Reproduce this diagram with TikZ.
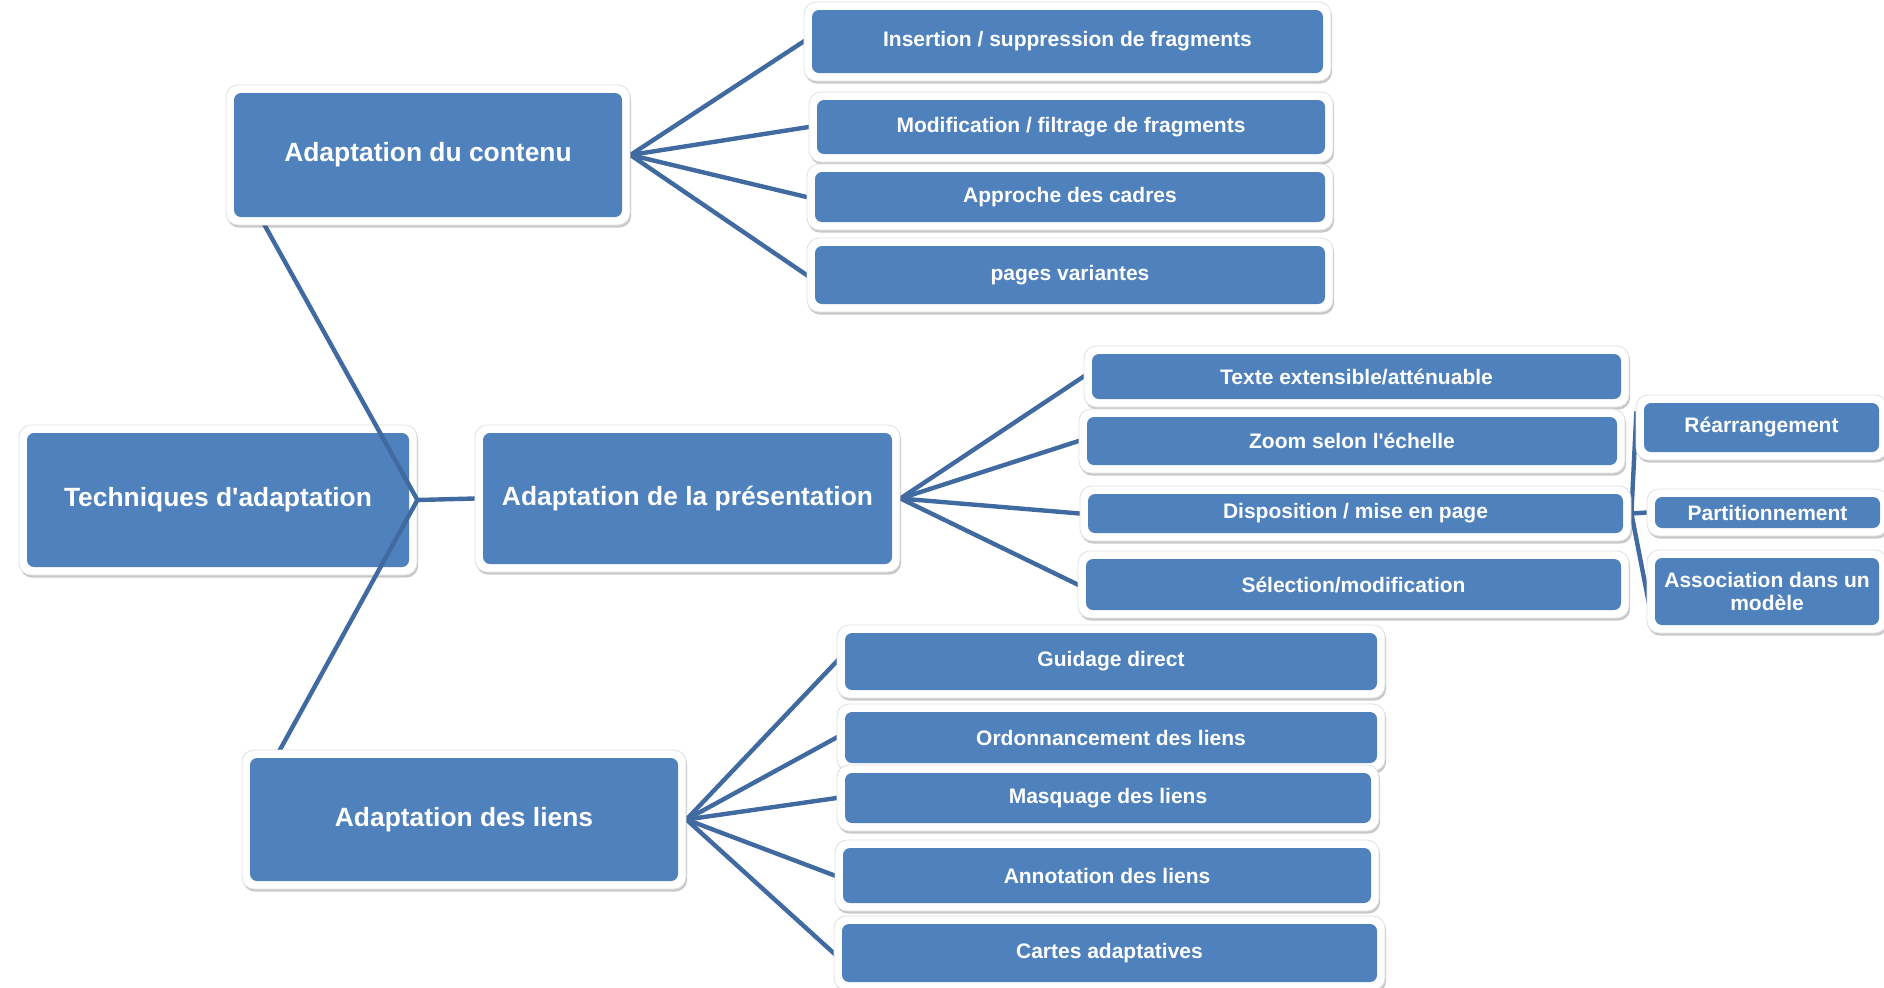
\documentclass[tikz,border=0pt]{standalone}
\usepackage{fontspec}
\newfontfamily\lsans{Liberation Sans}
\usetikzlibrary{shadows,calc}
\definecolor{boxblue}{HTML}{4F81BD}
\definecolor{linkblue}{HTML}{406AA0}
\pgfdeclarelayer{bottom}
\pgfdeclarelayer{edges}
\pgfsetlayers{bottom,edges,main}
\begin{document}
\begin{tikzpicture}[x=0.5pt,y=-0.5pt,
  box/.style={fill=white, draw=black!12, line width=0.4pt, rounded corners=6pt,
    drop shadow={shadow xshift=0.6pt, shadow yshift=-1.3pt, opacity=0.3, fill=black!70},
    text=white, inner sep=0pt, align=center,
    path picture={\fill[boxblue, rounded corners=3.5pt]
      ([shift={(4pt,-4pt)}]path picture bounding box.north west) rectangle
      ([shift={(-4pt,4pt)}]path picture bounding box.south east);}},
  big/.style={box, font=\lsans\fontsize{13.2}{15}\selectfont\bfseries},
  small/.style={box, font=\lsans\fontsize{10.5}{11.5}\selectfont\bfseries},
  link/.style={draw=linkblue, line width=2.2pt},
  conn/.style={link, shorten >=-8pt, shorten <=-1pt}]
\useasboundingbox (0,0) rectangle (1884,987);
\begin{pgfonlayer}{bottom}
\fill[white] (0,0) rectangle (1884,987);
\node[big, minimum width=199pt, minimum height=75pt] (root) at (218,500) {Techniques d'adaptation};
\end{pgfonlayer}

\node[big, minimum width=202pt, minimum height=70pt] (cont) at (428,155) {Adaptation du contenu};
\node[big, minimum width=212.5pt, minimum height=73.5pt] (pres) at (687.5,498.5) {Adaptation de la présentation};
\node[big, minimum width=222pt, minimum height=69.5pt] (liens) at (464,819.5) {Adaptation des liens};

\node[small, minimum width=263.5pt, minimum height=39.5pt] (c1) at (1067.5,41.5) {Insertion / suppression de fragments};
\node[small, minimum width=262pt, minimum height=35pt] (c2) at (1071,127) {Modification / filtrage de fragments};
\node[small, minimum width=263pt, minimum height=33pt] (c3) at (1070,197) {Approche des cadres};
\node[small, minimum width=263pt, minimum height=37pt] (c4) at (1070,275) {pages variantes};

\node[small, minimum width=272.5pt, minimum height=30.5pt] (p1) at (1356.5,376.5) {Texte extensible/atténuable};
\node[small, minimum width=273pt, minimum height=32pt] (p2) at (1352,441) {Zoom selon l'échelle};
\node[small, minimum width=275.5pt, minimum height=27.5pt] (p3) at (1355.5,513.5) {Disposition / mise en page};
\node[small, minimum width=275.5pt, minimum height=33.5pt] (p4) at (1353.5,584.5) {Sélection/modification};

\node[small, minimum width=125.5pt, minimum height=32.5pt] (s1) at (1761.5,427.5) {Réarrangement};
\node[small, minimum width=120.5pt, minimum height=23.5pt] (s2) at (1767.5,512.5) {Partitionnement};
\node[small, minimum width=120pt, minimum height=41.5pt] (s3) at (1767,591.5) {Association dans un\\modèle};

\node[small, minimum width=274pt, minimum height=36.5pt] (l1) at (1111,661.5) {Guidage direct};
\node[small, minimum width=274pt, minimum height=33.5pt] (l2) at (1111,737.5) {Ordonnancement des liens};
\node[small, minimum width=271pt, minimum height=33pt] (l3) at (1108,798) {Masquage des liens};
\node[small, minimum width=272pt, minimum height=35.5pt] (l4) at (1107,875.5) {Annotation des liens};
\node[small, minimum width=275.5pt, minimum height=37pt] (l5) at (1109.5,953) {Cartes adaptatives};

\begin{pgfonlayer}{edges}
\draw[link] (root.east) -- ($(root.east)!0.96!(cont.west)$);
\draw[conn] (root.east) -- (pres.west);
\draw[link] (root.east) -- ($(root.east)!0.96!(liens.west)$);
\foreach \c in {c1,c2,c3,c4} \draw[conn] (cont.east) -- (\c.west);
\foreach \c in {p1,p2,p3,p4} \draw[conn] (pres.east) -- (\c.west);
\foreach \c in {s1,s2,s3} \draw[conn] (p3.east) -- (\c.west);
\foreach \c in {l1,l2,l3,l4,l5} \draw[conn] (liens.east) -- (\c.west);
\end{pgfonlayer}
\end{tikzpicture}
\end{document}
